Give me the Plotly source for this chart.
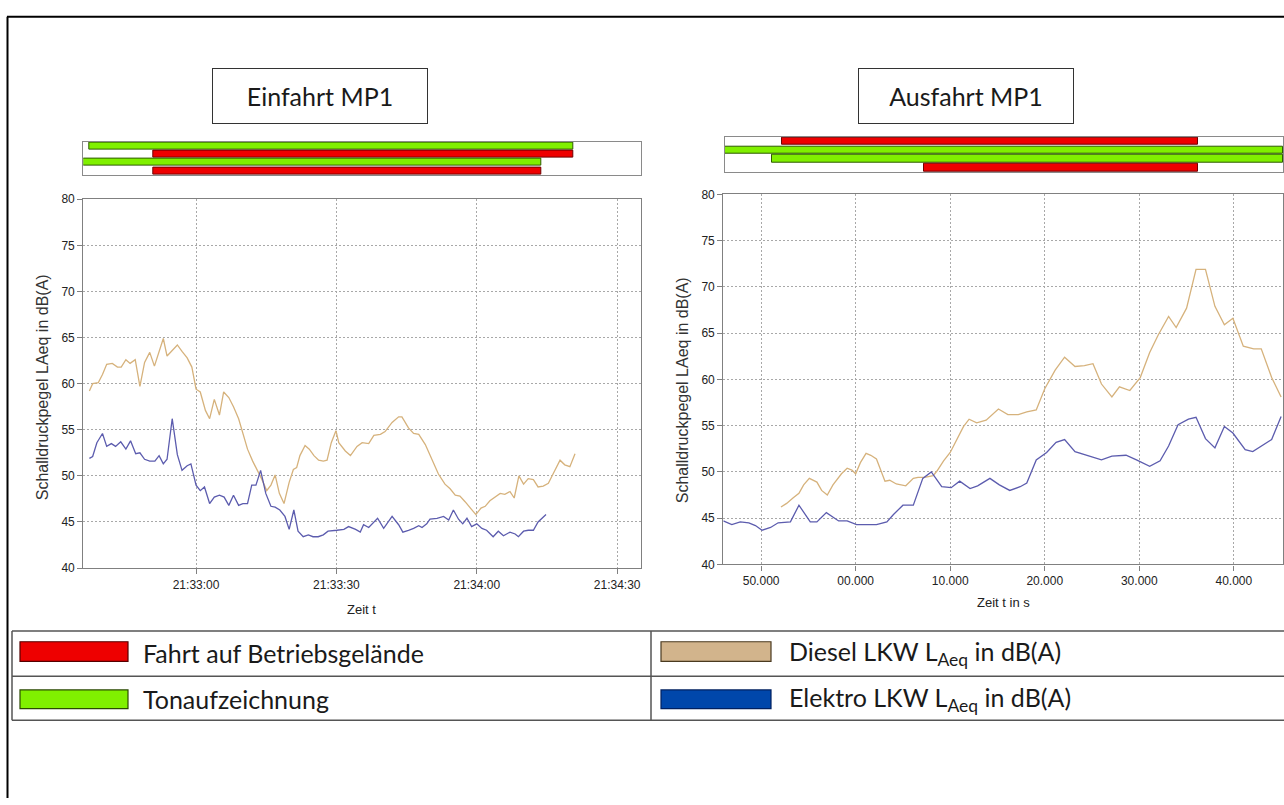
import plotly.graph_objects as go

W, H = 1284, 805

def px(x):
    return x / W

def py(y):
    return 1 - y / H

# ---------------- data ----------------
# Left chart (Einfahrt MP1): time in seconds after 21:32:00
diesel_in_t = [37.2, 37.9, 39.1, 40.0, 40.9, 42.1, 43.2, 44.0, 45.0, 45.9, 47.0, 48.0, 49.0, 50.1, 51.1, 52.1,
               53.0, 53.8, 54.9, 56.0, 57.0, 58.1, 59.1, 60.0, 60.9, 62.0, 62.9, 63.9, 65.0, 65.9, 67.0, 68.0,
               69.1, 70.0, 71.0, 72.1, 73.0, 74.0, 75.1, 76.0, 76.9, 77.8, 78.8, 79.9, 80.8, 81.5, 82.2, 83.3,
               84.2, 85.2, 86.2, 87.2, 88.0, 88.9, 89.9, 90.5, 91.9, 93.0, 94.4, 95.5, 96.9, 98.0, 99.4, 100.4,
               101.9, 103.3, 104.0, 105.4, 106.5, 107.6, 109.0, 110.4, 111.8, 113.2, 114.3, 115.4, 116.4, 117.5,
               118.6, 119.8, 120.9, 121.8, 122.8, 123.9, 125.0, 126.0, 127.1, 128.0, 129.0, 130.0, 131.0, 132.1,
               133.1, 134.2, 135.3, 136.3, 137.8, 138.8, 139.9, 141.0]
diesel_in_v = [59.2, 60.0, 60.1, 61.0, 62.1, 62.2, 61.8, 61.8, 62.6, 62.2, 62.6, 59.7, 62.3, 63.4, 61.9, 63.5,
               64.9, 63.0, 63.6, 64.2, 63.5, 62.8, 61.8, 59.4, 59.1, 57.1, 56.2, 58.3, 56.6, 59.1, 58.5, 57.5,
               56.2, 54.5, 52.9, 51.6, 50.7, 49.7, 48.4, 49.0, 50.1, 48.1, 47.0, 49.3, 50.7, 50.9, 52.2, 53.3,
               52.9, 52.2, 51.7, 51.6, 51.7, 53.6, 54.9, 53.6, 52.7, 52.2, 53.2, 53.6, 53.5, 54.4, 54.5, 54.8,
               55.8, 56.4, 56.4, 55.2, 54.6, 54.5, 53.4, 51.8, 50.2, 49.1, 48.6, 47.9, 47.8, 47.2,
               46.5, 45.8, 46.5, 46.7, 47.3, 47.7, 48.1, 48.0, 48.3, 47.6, 50.0, 49.1, 49.7, 49.6,
               48.8, 48.9, 49.2, 50.2, 51.7, 51.2, 51.0, 52.4]

elektro_in_t = [37.2, 37.9, 38.8, 40.0, 40.9, 41.9, 42.8, 43.9, 45.0, 46.0, 47.1, 48.0, 49.0, 50.1, 51.2, 52.1,
                53.0, 53.8, 54.9, 56.0, 57.0, 58.1, 58.9, 60.0, 60.9, 61.8, 62.9, 63.9, 65.0, 66.0, 67.0, 68.0,
                69.1, 70.0, 71.0, 71.9, 72.8, 73.8, 74.9, 76.0, 76.9, 77.9, 79.0, 79.9, 80.9, 81.8, 82.9, 84.0,
                85.0, 86.1, 87.2, 88.2, 90.1, 91.6, 92.6, 94.1, 95.1, 95.8, 96.9, 98.0, 98.8, 100.1, 101.9,
                103.3, 104.2, 105.4, 106.5, 107.6, 108.3, 109.3, 110.0, 111.5, 112.9, 114.0, 115.0, 116.1, 117.0,
                117.9, 118.9, 120.0, 121.1, 122.1, 123.5, 124.6, 125.7, 127.1, 128.2, 128.9, 130.0, 131.0, 132.1,
                133.1, 134.8]
elektro_in_v = [51.9, 52.1, 53.6, 54.6, 53.2, 53.5, 53.2, 53.7, 52.9, 53.8, 52.4, 52.5, 51.8, 51.6, 51.6, 52.2,
                51.3, 51.8, 56.2, 52.3, 50.6, 51.1, 51.3, 49.0, 48.4, 48.8, 47.0, 47.7, 47.9, 47.7, 46.8, 47.9,
                46.8, 47.0, 47.0, 49.0, 49.0, 50.6, 48.1, 46.7, 46.6, 46.3, 45.6, 44.2, 46.3, 44.0, 43.4, 43.6,
                43.4, 43.4, 43.6, 44.0, 44.1, 44.2, 44.5, 44.2, 43.9, 44.7, 44.4, 45.0, 45.4, 44.3, 45.6,
                44.7, 43.9, 44.1, 44.3, 44.6, 44.4, 44.8, 45.3, 45.4, 45.6, 45.2, 46.3, 45.3, 44.8,
                45.4, 44.5, 44.8, 44.3, 44.1, 43.4, 44.0, 43.5, 43.9, 43.7, 43.4, 44.0, 44.1, 44.1,
                45.0, 45.8]

# Right chart (Ausfahrt MP1): seconds, 60 == "00.000" of the next minute
diesel_out_t = [52.1, 52.7, 53.4, 54.0, 54.5, 55.1, 55.9, 56.4, 57.0, 57.6, 58.5, 59.1, 59.6, 60.0, 60.5, 61.1,
                61.6, 62.2, 63.1, 63.6, 64.3, 65.3, 66.1, 66.6, 67.3, 68.2, 68.6, 69.3, 70.0, 70.7, 71.4, 72.0,
                72.8, 73.8, 75.1, 76.1, 77.2, 78.1, 79.1, 80.0, 81.1, 82.1, 83.2, 84.2, 85.1, 86.0, 87.1, 87.9,
                89.0, 90.1, 91.1, 92.0, 93.1, 93.9, 95.0, 96.0, 97.0, 98.0, 99.0, 99.9, 101.0, 102.1, 102.9,
                104.0, 105.0]
diesel_out_v = [46.2, 46.6, 47.2, 47.7, 48.6, 49.3, 48.9, 48.0, 47.5, 48.6, 49.8, 50.4, 50.2, 49.8, 51.0, 52.0,
                51.8, 51.4, 49.0, 49.1, 48.7, 48.5, 49.3, 49.4, 49.4, 49.6, 50.1, 51.2, 52.1, 53.5, 54.9, 55.7,
                55.3, 55.6, 56.8, 56.2, 56.2, 56.5, 56.7, 59.0, 61.0, 62.4, 61.4, 61.5, 61.7, 59.5, 58.1, 59.2,
                58.8, 60.2, 62.9, 64.8, 66.8, 65.6, 67.7, 71.9, 71.9, 67.9, 65.9, 66.6, 63.6, 63.3, 63.3,
                60.2, 58.1]

elektro_out_t = [46.0, 46.9, 47.8, 48.7, 49.4, 50.1, 51.0, 51.8, 53.1, 54.0, 55.2, 55.9, 56.9, 58.2, 59.1, 60.1,
                 61.2, 62.2, 63.3, 64.0, 65.0, 66.1, 67.1, 68.0, 69.1, 70.1, 71.0, 72.1, 72.9, 74.2, 75.2, 76.3,
                 77.4, 78.1, 79.1, 80.2, 81.2, 82.1, 83.2, 84.4, 86.0, 87.1, 88.6, 89.7, 91.1, 92.2, 93.1, 94.1,
                 95.2, 96.0, 97.0, 98.0, 99.0, 99.9, 101.2, 102.0, 102.9, 104.0, 105.0]
elektro_out_v = [44.7, 44.3, 44.6, 44.5, 44.2, 43.7, 44.0, 44.5, 44.6, 46.4, 44.6, 44.6, 45.6, 44.7, 44.7, 44.3,
                 44.3, 44.3, 44.6, 45.4, 46.4, 46.4, 49.3, 50.0, 48.4, 48.3, 49.0, 48.2, 48.5, 49.3, 48.6, 48.0,
                 48.4, 48.8, 51.3, 52.1, 53.2, 53.5, 52.2, 51.8, 51.3, 51.7, 51.8, 51.3, 50.6, 51.2, 52.8, 55.1,
                 55.7, 55.9, 53.6, 52.6, 54.9, 54.2, 52.4, 52.2, 52.8, 53.5, 56.0]

# status bars above the charts (rows top -> bottom)
bars_in_start = [37.1, 50.9, 35.9, 50.9]
bars_in_end = [140.7, 140.7, 133.7, 133.7]
bars_in_kind = ["Ton", "Fahrt", "Ton", "Fahrt"]

bars_out_start = [52.0, 46.0, 51.0, 67.1]
bars_out_end = [96.2, 105.2, 105.2, 96.2]
bars_out_kind = ["Fahrt", "Ton", "Ton", "Fahrt"]

ticks_in = [60, 90, 120, 150]
ticks_in_text = ["21:%02d:%02d" % (32 + v // 60, v % 60) for v in ticks_in]
ticks_out = [50, 60, 70, 80, 90, 100]
ticks_out_text = ["%02d.000" % (v % 60) for v in ticks_out]

y_ticks = [40, 45, 50, 55, 60, 65, 70, 75, 80]

# ---------------- styles ----------------
C_DIESEL = "#D6B27C"
C_ELEKTRO = "#5C5CAE"
C_RED = "#EE0000"
C_RED_LINE = "#6E0000"
C_GREEN = "#80F000"
C_GREEN_LINE = "#2E5A00"
FILL = {"Ton": C_GREEN, "Fahrt": C_RED}
EDGE = {"Ton": C_GREEN_LINE, "Fahrt": C_RED_LINE}

TICKFONT = dict(family="Liberation Sans, Arial, sans-serif", size=12, color="#222222")
TXT = "Lato, Calibri, sans-serif"

fig = go.Figure()

# lines
fig.add_trace(go.Scatter(x=diesel_in_t, y=diesel_in_v, mode="lines", line=dict(color=C_DIESEL, width=1.3),
                         xaxis="x", yaxis="y", showlegend=False))
fig.add_trace(go.Scatter(x=elektro_in_t, y=elektro_in_v, mode="lines", line=dict(color=C_ELEKTRO, width=1.3),
                         xaxis="x", yaxis="y", showlegend=False))
fig.add_trace(go.Scatter(x=diesel_out_t, y=diesel_out_v, mode="lines", line=dict(color=C_DIESEL, width=1.3),
                         xaxis="x3", yaxis="y3", showlegend=False))
fig.add_trace(go.Scatter(x=elektro_out_t, y=elektro_out_v, mode="lines", line=dict(color=C_ELEKTRO, width=1.3),
                         xaxis="x3", yaxis="y3", showlegend=False))

# status bars
rows = [3, 2, 1, 0]
fig.add_trace(go.Bar(orientation="h", y=rows,
                     x=[e - s for s, e in zip(bars_in_start, bars_in_end)], base=bars_in_start,
                     marker=dict(color=[FILL[k] for k in bars_in_kind],
                                 line=dict(color=[EDGE[k] for k in bars_in_kind], width=1)),
                     width=0.82, xaxis="x2", yaxis="y2", showlegend=False))
fig.add_trace(go.Bar(orientation="h", y=rows,
                     x=[e - s for s, e in zip(bars_out_start, bars_out_end)], base=bars_out_start,
                     marker=dict(color=[FILL[k] for k in bars_out_kind],
                                 line=dict(color=[EDGE[k] for k in bars_out_kind], width=1)),
                     width=0.82, xaxis="x4", yaxis="y4", showlegend=False))

L_DOM = [px(83.3), px(641)]
R_DOM = [px(723.3), px(1283)]

common_x = dict(showline=True, linecolor="#808080", linewidth=1.2, mirror=True, ticks="outside", ticklen=5,
                tickcolor="#808080", showgrid=True, gridcolor="#a8a8a8", griddash="2px,2px", gridwidth=1,
                zeroline=False, tickfont=TICKFONT)
common_y = dict(common_x, range=[40, 80], tickvals=y_ticks)
bar_x = dict(showline=True, linecolor="#8a8a8a", linewidth=1.2, mirror=True, showgrid=False, zeroline=False,
             showticklabels=False, ticks="")
bar_y = dict(bar_x, range=[-0.5, 3.5])

fig.update_layout(
    width=W, height=H, margin=dict(l=0, r=0, t=0, b=0),
    paper_bgcolor="white", plot_bgcolor="white", barmode="overlay", bargap=0,
    xaxis=dict(common_x, domain=L_DOM, range=[35.9, 155.1], tickvals=ticks_in, ticktext=ticks_in_text,
               anchor="y"),
    yaxis=dict(common_y, domain=[py(571), py(195.7)], anchor="x"),
    xaxis2=dict(bar_x, domain=L_DOM, range=[35.9, 155.1], anchor="y2"),
    yaxis2=dict(bar_y, domain=[py(171), py(137)], anchor="x2"),
    xaxis3=dict(common_x, domain=R_DOM, range=[46.0, 105.2], tickvals=ticks_out, ticktext=ticks_out_text,
                anchor="y3"),
    yaxis3=dict(common_y, domain=[py(567.3), py(190.7)], anchor="x3"),
    xaxis4=dict(bar_x, domain=[px(725), px(1283)], range=[46.0, 105.2], anchor="y4"),
    yaxis4=dict(bar_y, domain=[py(168), py(132)], anchor="x4"),
)

ann = []
# titles in boxes
for cx, label in [(320, "Einfahrt MP1"), (965.5, "Ausfahrt MP1")]:
    ann.append(dict(x=px(cx), y=py(91), xref="paper", yref="paper", text=label, showarrow=False,
                    font=dict(family=TXT, size=25, color="#1a1a1a"), bordercolor="#333333", borderwidth=1,
                    borderpad=0, bgcolor="white", width=214, height=54, xanchor="center", yanchor="middle"))
# axis titles
ytitle = "Schalldruckpegel LAeq in dB(A)"
for cx, cy in [(42, 387), (682, 390)]:
    ann.append(dict(x=px(cx), y=py(cy), xref="paper", yref="paper", text=ytitle, textangle=-90, showarrow=False,
                    font=dict(family="Liberation Sans, Arial, sans-serif", size=16, color="#333333"),
                    xanchor="center", yanchor="middle"))
for cx, cy, label in [(362, 613, "Zeit t"), (1003, 606, "Zeit t in s")]:
    ann.append(dict(x=px(cx), y=py(cy), xref="paper", yref="paper", text=label, showarrow=False,
                    font=dict(family="Liberation Sans, Arial, sans-serif", size=13, color="#222222"),
                    xanchor="center", yanchor="middle"))

# legend table texts
legend_items = [
    (141, 657, "Fahrt auf Betriebsgelände"),
    (141, 704, "Tonaufzeichnung"),
    (787, 657, "Diesel LKW L<sub>Aeq</sub> in dB(A)"),
    (787, 704, "Elektro LKW L<sub>Aeq</sub> in dB(A)"),
]
for x0, yc, label in legend_items:
    ann.append(dict(x=px(x0), y=py(yc), xref="paper", yref="paper", text=label, showarrow=False,
                    font=dict(family=TXT, size=25, color="#1a1a1a"), xanchor="left", yanchor="middle"))
fig.update_layout(annotations=ann)

shapes = []
# outer frame (top and left)
shapes.append(dict(type="line", xref="paper", yref="paper", x0=px(7), x1=1, y0=py(10), y1=py(10),
                   line=dict(color="black", width=2)))
shapes.append(dict(type="line", xref="paper", yref="paper", x0=px(7.5), x1=px(7.5), y0=py(10), y1=0,
                   line=dict(color="black", width=2)))
# table
tl = dict(color="#555555", width=1.5)
for yy in [635, 681, 726]:
    shapes.append(dict(type="line", xref="paper", yref="paper", x0=px(12), x1=1, y0=py(yy), y1=py(yy), line=tl))
for xx in [12, 651]:
    shapes.append(dict(type="line", xref="paper", yref="paper", x0=px(xx), x1=px(xx), y0=py(635), y1=py(726),
                       line=tl))
# legend swatches
sw = [
    (20, 128, 646, 666, C_RED, "#550000"),
    (20, 128, 695, 714, C_GREEN, "#2a4a00"),
    (661, 771, 646, 666, "#D2B48C", "#4a3a20"),
    (661, 771, 695, 714, "#0047AB", "#002060"),
]
for x0, x1, y0, y1, fc, lc in sw:
    shapes.append(dict(type="rect", xref="paper", yref="paper", x0=px(x0), x1=px(x1), y0=py(y1), y1=py(y0),
                       fillcolor=fc, line=dict(color=lc, width=1.2)))
fig.update_layout(shapes=shapes)

fig.write_html("out.html")
